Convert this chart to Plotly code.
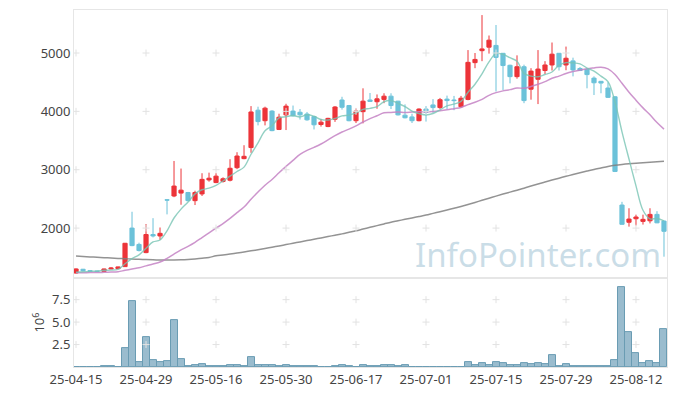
import plotly.graph_objects as go
from plotly.subplots import make_subplots
import pandas as pd

dates = (
    ["25-04-%s" % d for d in ["15","16","17","18","21","22","23","24","25","28","29","30"]]
    + ["25-05-%s" % d for d in ["02","07","08","09","12","13","14","15","16","19","20","21","22","23","26","27","28","29","30"]]
    + ["25-06-%s" % d for d in ["02","04","05","09","10","11","12","13","16","17","18","19","20","23","24","25","26","27","30"]]
    + ["25-07-%s" % d for d in ["01","02","03","04","07","08","09","10","11","14","15","16","17","18","21","22","23","24","25","28","29","30","31"]]
    + ["25-08-%s" % d for d in ["01","04","05","06","07","08","11","12","13","14","18","19"]]
)

opens = [1230,1295,1270,1265,1258,1300,1305,1340,2000,1720,1580,1890,1865,2485,2550,2600,2610,2470,2585,2825,
         2780,2800,2820,3035,3190,3380,4020,3840,4005,3690,3940,4005,3985,3955,3910,3775,3740,3865,4195,4100,
         3840,3995,4195,4165,4205,4260,4175,3935,3905,3840,4040,4110,4065,4210,4195,4080,4205,4835,5040,5100,
         5130,4995,4790,4595,4765,4380,4550,4700,4795,4995,4795,4865,4735,4720,4570,4515,4400,4250,2395,2100,
         2160,2115,2125,2235,2120]
highs = [1310,1300,1275,1270,1305,1330,1340,1745,2280,1750,2070,2170,2010,2495,3150,3020,2620,2640,2940,2950,
         2940,2870,3180,3300,3420,4090,4080,4080,4020,3960,4130,4100,4040,3990,3920,3870,3890,4090,4250,4110,
         4050,4395,4315,4290,4310,4310,4180,4120,3960,4050,4090,4210,4230,4270,4265,4265,5050,5000,5650,5300,
         5480,5000,4800,4960,4800,4740,5050,4860,5180,5000,5110,4920,4760,4730,4600,4520,4500,4260,2450,2340,
         2230,2230,2340,2290,2130]
lows = [1220,1265,1255,1250,1255,1295,1300,1335,1690,1600,1570,1840,1800,2235,2530,2400,2460,2395,2550,2795,
        2770,2780,2800,3010,3180,3290,3760,3760,3660,3680,3680,3910,3860,3840,3690,3740,3730,3820,4030,3830,
        3800,3795,4160,4045,4140,4040,3930,3880,3800,3830,3825,3975,4040,4040,4020,4060,4190,4740,4860,4990,
        4340,4365,4480,4560,4140,4200,4125,4640,4700,4700,4705,4600,4690,4395,4280,4310,4230,2960,2060,2025,
        2045,2060,2080,2085,1510]
closes = [1300,1270,1260,1255,1300,1315,1335,1740,1700,1615,1890,1865,1910,2480,2720,2650,2470,2610,2835,2855,
          2890,2845,3025,3235,3230,3990,3825,4055,3670,3900,4090,3925,3940,3855,3770,3815,3880,4075,4070,3840,
          4005,4175,4170,4215,4260,4100,3940,3890,3840,4040,3985,4065,4200,4185,4185,4225,4840,4890,5070,5220,
          4925,4785,4595,4765,4185,4690,4725,4795,4980,4765,4910,4710,4700,4630,4490,4485,4240,2970,2065,2155,
          2190,2150,2235,2090,1945]
volume_m = [0.02,0.02,0.02,0.02,0.06,0.06,0.02,2.15,7.35,0.5,3.35,0.8,0.5,0.7,5.25,0.9,0.05,0.17,0.35,0.05,
            0.05,0.05,0.25,0.2,0.05,1.15,0.25,0.25,0.18,0.06,0.18,0.06,0.06,0.06,0.06,0.02,0.02,0.06,0.16,0.05,
            0.02,0.16,0.06,0.06,0.16,0.16,0.05,0.16,0.02,0.04,0.04,0.04,0.04,0.02,0.02,0.04,0.6,0.2,0.47,0.18,
            0.6,0.4,0.2,0.2,0.47,0.28,0.47,0.28,1.28,0.15,0.33,0.15,0.15,0.05,0.05,0.05,0.05,0.8,8.9,3.9,
            1.5,0.47,0.68,0.47,4.17]
# start of moving averages (windows reach before the visible data)
ma5_head = [1244,1252,1258,1263]
ma20_head = [1234,1236,1237,1238,1242,1246,1251,1277,1300,1320,1353,1384,1418,1481,1555,1626,1688,1757,1838]
ma_long = [1520,1513,1506,1499,1493,1487,1481,1475,1470,1465,1461,1457,1454,1453,1454,1457,1463,1472,1483,1496,
           1525,1540,1556,1573,1591,1610,1630,1651,1673,1695,1717,1740,1763,1786,1809,1832,1855,1878,1901,1928,
           1955,1984,2013,2042,2071,2100,2125,2150,2174,2198,2223,2252,2281,2310,2340,2370,2404,2440,2476,2512,
           2548,2583,2616,2650,2684,2720,2755,2790,2823,2855,2887,2918,2948,2977,3005,3030,3055,3075,3090,3102,
           3112,3120,3128,3136,3144]

price_ticks = [2000, 3000, 4000, 5000]
vol_ticks = [2.5, 5.0, 7.5]
vol_tick_text = ["2.5", "5.0", "7.5"]
xtick_vals = dates[::10]

cs = pd.Series(closes, dtype=float)
ma5 = cs.rolling(5).mean().tolist()
ma5[:4] = ma5_head
ma20 = cs.rolling(20).mean().tolist()
ma20[:19] = ma20_head

RED = "#ec3439"
BLUE = "#6cc2d9"
FONT = "Noto Sans"

fig = make_subplots(rows=2, cols=1, shared_xaxes=True, vertical_spacing=0,
                    row_heights=[0.751, 0.249])

fig.add_trace(go.Candlestick(
    x=dates, open=opens, high=highs, low=lows, close=closes,
    increasing=dict(line=dict(color=RED, width=1), fillcolor=RED),
    decreasing=dict(line=dict(color=BLUE, width=1), fillcolor=BLUE),
    whiskerwidth=0, showlegend=False, hoverinfo="skip"), row=1, col=1)

fig.add_trace(go.Bar(x=dates, y=volume_m, marker=dict(color="rgba(120,165,190,0.75)", line=dict(color="#6a9cb3", width=1)),
                     showlegend=False, hoverinfo="skip"), row=2, col=1)

fig.add_trace(go.Scatter(x=dates, y=ma_long, mode="lines", line=dict(color="rgba(128,128,128,0.85)", width=1.5, shape="spline"),
                         showlegend=False, hoverinfo="skip"), row=1, col=1)
fig.add_trace(go.Scatter(x=dates, y=ma20, mode="lines", line=dict(color="rgba(196,130,196,0.85)", width=1.5, shape="spline"),
                         showlegend=False, hoverinfo="skip"), row=1, col=1)
fig.add_trace(go.Scatter(x=dates, y=ma5, mode="lines", line=dict(color="rgba(120,196,180,0.8)", width=1.4, shape="spline"),
                         showlegend=False, hoverinfo="skip"), row=1, col=1)

# grid crosses at tick intersections
cross = dict(symbol="cross-thin", size=5, line=dict(color="#e2e2e2", width=1))
fig.add_trace(go.Scatter(
    x=[d for d in xtick_vals for _ in price_ticks], y=[p for _ in xtick_vals for p in price_ticks],
    mode="markers", marker=cross, hoverinfo="skip", showlegend=False), row=1, col=1)
fig.add_trace(go.Scatter(
    x=[d for d in xtick_vals for _ in vol_ticks], y=[p for _ in xtick_vals for p in vol_ticks],
    mode="markers", marker=cross, hoverinfo="skip", showlegend=False), row=2, col=1)

axis_common = dict(showline=True, mirror=True, linecolor="#e6e6e6", linewidth=1, showgrid=False, zeroline=False,
                   tickfont=dict(family=FONT, size=13, color="#444"), ticks="", automargin=False)
fig.update_xaxes(type="category", categoryorder="array", categoryarray=dates,
                 range=[-0.29, 84.43], rangeslider_visible=False, **axis_common)
fig.update_xaxes(tickmode="array", tickvals=xtick_vals, ticktext=xtick_vals, tickangle=0, row=2, col=1)
fig.update_xaxes(showticklabels=False, row=1, col=1)
fig.update_yaxes(**axis_common)
fig.update_yaxes(range=[1143, 5737], tickmode="array", tickvals=price_ticks, row=1, col=1)
fig.update_yaxes(range=[0, 9.9], tickmode="array", tickvals=vol_ticks, ticktext=vol_tick_text,
                 title=dict(text="10<sup>6</sup>", font=dict(family=FONT, size=13, color="#444"), standoff=4),
                 row=2, col=1)

fig.add_annotation(text="InfoPointer.com", xref="paper", yref="paper", x=0.782, y=0.314,
                   xanchor="center", yanchor="middle", showarrow=False,
                   font=dict(family=FONT, size=33, color="rgba(150,188,208,0.5)"))

# the page body has an 8px margin; offsets compensate so the plot area lands at x 74-667, y 10-367
fig.update_layout(width=669, height=388, margin=dict(l=66, r=10, t=2, b=29),
                  paper_bgcolor="white", plot_bgcolor="white", boxgap=0.15, bargap=0,
                  hovermode=False, showlegend=False)

fig.write_html("out.html")
